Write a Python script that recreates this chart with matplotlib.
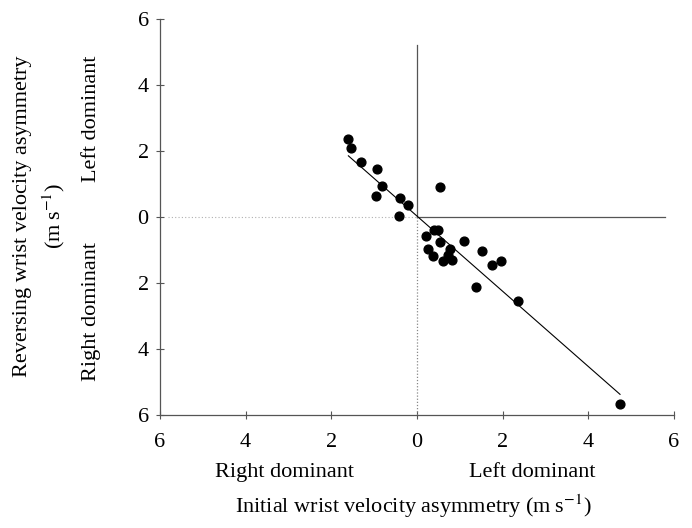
import matplotlib.pyplot as plt
from matplotlib.ticker import FuncFormatter

# initial (x) vs reversing (y) wrist velocity asymmetry, m s-1
initial = [-1.60, -1.54, -1.30, -0.93, -0.82, -0.96, -0.39, -0.21, -0.43, 0.55,
           0.41, 0.50, 0.22, 0.54, 1.10, 0.26, 0.77, 0.38, 0.73, 0.61, 0.82,
           1.51, 1.76, 1.96, 1.39, 2.35, 4.74]
reversing = [2.36, 2.10, 1.66, 1.44, 0.94, 0.65, 0.59, 0.35, 0.04, 0.91,
             -0.38, -0.40, -0.58, -0.76, -0.73, -0.97, -0.97, -1.17, -1.15, -1.32, -1.30,
             -1.02, -1.46, -1.32, -2.12, -2.55, -5.66]

# regression line
fit_x = [-1.60, 4.74]
fit_slope = -1.14
fit_intercept = 0.03

ticks = [-6, -4, -2, 0, 2, 4, 6]

plt.rcParams['font.family'] = ['Liberation Serif', 'DejaVu Serif']
plt.rcParams['mathtext.fontset'] = 'stix'
fs = 16

fig = plt.figure(figsize=(6.92, 5.28), dpi=100)
ax = fig.add_axes([0.231, 0.214, 0.743, 0.750])

axis_col = '#555555'
# quadrant lines
ax.plot([0, 0], [0, 5.22], color=axis_col, lw=0.9)
ax.plot([0, 5.8], [0, 0], color=axis_col, lw=0.9)
ax.plot([-5.8, 0], [0, 0], color='#b0b0b0', lw=0.8, ls=(0, (1, 2)))
ax.plot([0, 0], [-6, 0], color='#888888', lw=0.9, ls=(0, (1, 1.5)))

fy = [fit_slope * x + fit_intercept for x in fit_x]
ax.plot(fit_x, fy, color='black', lw=0.8)
ax.scatter(initial, reversing, s=40, color='black', zorder=3)

ax.set_xlim(-6, 6)
ax.set_ylim(-6, 6)
ax.set_xticks(ticks)
ax.set_yticks(ticks)
fmt = FuncFormatter(lambda v, p: f'{abs(int(round(v)))}')
ax.xaxis.set_major_formatter(fmt)
ax.yaxis.set_major_formatter(fmt)
ax.tick_params(direction='inout', length=6, width=0.8, color=axis_col,
               labelsize=fs)
ax.tick_params(axis='x', pad=10)
ax.tick_params(axis='y', pad=5)

for side in ['top', 'right']:
    ax.spines[side].set_visible(False)
for side in ['left', 'bottom']:
    ax.spines[side].set_color(axis_col)
    ax.spines[side].set_linewidth(0.9)

# direction labels
ax.text(-3.1, -7.75, 'Right dominant', ha='center', va='center', fontsize=fs)
ax.text(2.68, -7.75, 'Left dominant', ha='center', va='center', fontsize=fs)
ax.text(-7.6, 2.97, 'Left dominant', ha='center', va='center', rotation=90, fontsize=fs)
ax.text(-7.6, -2.85, 'Right dominant', ha='center', va='center', rotation=90, fontsize=fs)

fig.text(413 / 692, 1 - 506 / 528, 'Initial wrist velocity asymmetry (m\u2009s$^{-1}$)',
         ha='center', va='center', fontsize=fs)
fig.text(23 / 692, 1 - 216 / 528, 'Reversing wrist velocity asymmetry',
         ha='center', va='center', rotation=90, fontsize=fs)
fig.text(54 / 692, 1 - 216 / 528, '(m\u2009s$^{-1}$)',
         ha='center', va='center', rotation=90, fontsize=fs)

fig.savefig('out.png', dpi=100)
